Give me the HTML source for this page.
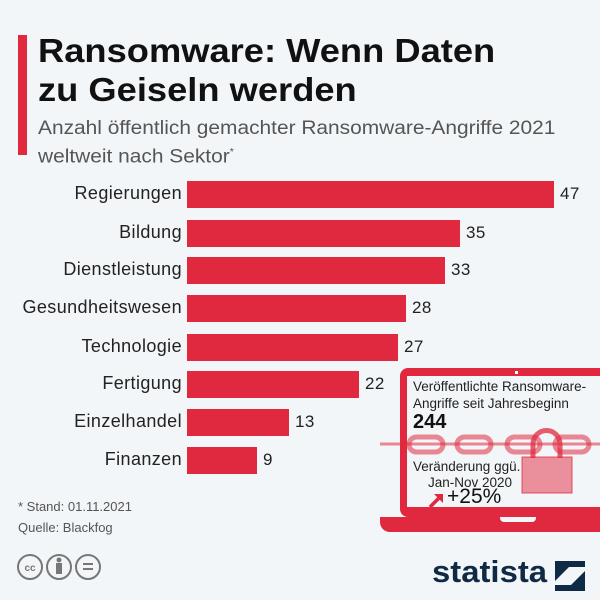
<!DOCTYPE html>
<html><head><meta charset="utf-8"><style>
body{margin:0;width:600px;height:600px;background:#f3f6f8;position:relative;overflow:hidden;font-family:"Liberation Sans","DejaVu Sans",sans-serif;color:#1e1e1e}
.abs{position:absolute}
.lbl{position:absolute;right:418px;font-size:18px;letter-spacing:0.4px;color:#222;text-align:right;white-space:nowrap}
.bar{position:absolute;left:187px;height:27px;background:#e0293f}
.val{position:absolute;font-size:17px;letter-spacing:0.4px;color:#222}
</style></head><body>
<div class="abs" style="left:18px;top:35px;width:9px;height:120px;background:#e0293f"></div>
<div class="abs" style="left:38px;top:31px;font-size:33px;font-weight:bold;line-height:39px;color:#111;white-space:nowrap;transform:scaleX(1.1);transform-origin:left top">Ransomware: Wenn Daten<br>zu Geiseln werden</div>
<div class="abs" style="left:38px;top:117px;font-size:19px;line-height:24px;color:#555;white-space:nowrap;transform:scaleX(1.1);transform-origin:left top">Anzahl öffentlich gemachter Ransomware-Angriffe 2021<br>weltweit nach Sektor<sup style="font-size:10px">*</sup></div>

<div class="lbl" style="top:183px">Regierungen</div><div class="bar" style="top:181px;width:367px"></div><div class="val" style="left:560px;top:184px">47</div>
<div class="lbl" style="top:222px">Bildung</div><div class="bar" style="top:220px;width:273px"></div><div class="val" style="left:466px;top:223px">35</div>
<div class="lbl" style="top:259px">Dienstleistung</div><div class="bar" style="top:257px;width:258px"></div><div class="val" style="left:451px;top:260px">33</div>
<div class="lbl" style="top:297px">Gesundheitswesen</div><div class="bar" style="top:295px;width:219px"></div><div class="val" style="left:412px;top:298px">28</div>
<div class="lbl" style="top:336px">Technologie</div><div class="bar" style="top:334px;width:211px"></div><div class="val" style="left:404px;top:337px">27</div>
<div class="lbl" style="top:373px">Fertigung</div><div class="bar" style="top:371px;width:172px"></div><div class="val" style="left:365px;top:374px">22</div>
<div class="lbl" style="top:411px">Einzelhandel</div><div class="bar" style="top:409px;width:102px"></div><div class="val" style="left:295px;top:412px">13</div>
<div class="lbl" style="top:449px">Finanzen</div><div class="bar" style="top:447px;width:70px"></div><div class="val" style="left:263px;top:450px">9</div>

<!-- laptop -->
<div class="abs" style="left:400px;top:368px;width:210px;height:149px;background:#e0293f;border-radius:8px"></div>
<div class="abs" style="left:407px;top:376px;width:200px;height:131px;background:#f3f6f8"></div>
<div class="abs" style="left:515px;top:371px;width:3px;height:3px;background:#fff"></div>
<div class="abs" style="left:380px;top:517px;width:230px;height:15px;background:#e0293f;border-radius:0 0 0 10px"></div>
<div class="abs" style="left:500px;top:517px;width:36px;height:5px;background:#f3f6f8;border-radius:0 0 4px 4px"></div>
<div class="abs" style="left:413px;top:378px;font-size:13.5px;line-height:17px;color:#222">Veröffentlichte Ransomware-<br>Angriffe seit Jahresbeginn</div>
<div class="abs" style="left:413px;top:411px;font-size:20px;font-weight:bold;color:#111">244</div>
<svg class="abs" style="left:380px;top:425px" width="220" height="75">
<g fill="none" stroke="#e0293f" stroke-opacity="0.55" stroke-width="5">
<line x1="0" y1="19" x2="220" y2="19" stroke-width="3"/>
<rect x="29" y="12" width="34" height="15" rx="7.5"/>
<rect x="77" y="12" width="34" height="15" rx="7.5"/>
<rect x="127" y="12" width="33" height="15" rx="7.5"/>
<rect x="175" y="12" width="34" height="15" rx="7.5"/>
</g>
<path d="M153 33 V19 a13.5 13.5 0 0 1 27 0 V33" fill="none" stroke="#e0293f" stroke-opacity="0.75" stroke-width="5"/>
<rect x="142" y="32" width="50" height="36" fill="#e0293f" fill-opacity="0.5" stroke="#e0293f" stroke-opacity="0.8"/>
</svg>
<div class="abs" style="left:413px;top:459px;font-size:13.5px;line-height:16px;color:#222">Veränderung ggü.</div>
<div class="abs" style="left:428px;top:475px;font-size:13.5px;color:#222">Jan-Nov 2020</div>
<svg class="abs" style="left:428px;top:493px" width="16" height="16"><line x1="2" y1="14" x2="12" y2="4" stroke="#e0293f" stroke-width="3.5"/><polygon points="6,1 15,1 15,10" fill="#e0293f"/></svg>
<div class="abs" style="left:447px;top:485px;font-size:21px;color:#111">+25%</div>

<div class="abs" style="left:18px;top:496px;font-size:13px;line-height:21px;color:#555">* Stand: 01.11.2021<br>Quelle: Blackfog</div>
<svg class="abs" style="left:17px;top:553px" width="100" height="30">
<g fill="none" stroke="#777" stroke-width="2"><circle cx="13" cy="14" r="12"/><circle cx="42" cy="14" r="12"/><circle cx="71" cy="14" r="12"/></g>
<text x="13" y="18" font-size="10" font-weight="bold" fill="#777" text-anchor="middle" font-family="Liberation Sans">cc</text>
<rect x="39" y="10" width="6" height="11" fill="#777"/><circle cx="42" cy="7" r="2.5" fill="#777"/>
<rect x="66" y="10" width="10" height="2" fill="#777"/><rect x="66" y="15" width="10" height="2" fill="#777"/>
</svg>
<div class="abs" style="left:432px;top:555px;font-size:31px;font-weight:bold;color:#0f2a44;line-height:34px;white-space:nowrap;transform:scaleX(1.06);transform-origin:left top">statista</div>
<svg class="abs" style="left:555px;top:561px" width="30" height="30"><polygon points="0,0 30,0 30,6 14,6 0,20" fill="#0f2a44"/><polygon points="30,10 30,30 0,30 0,24 16,24" fill="#0f2a44"/></svg>
</body></html>
